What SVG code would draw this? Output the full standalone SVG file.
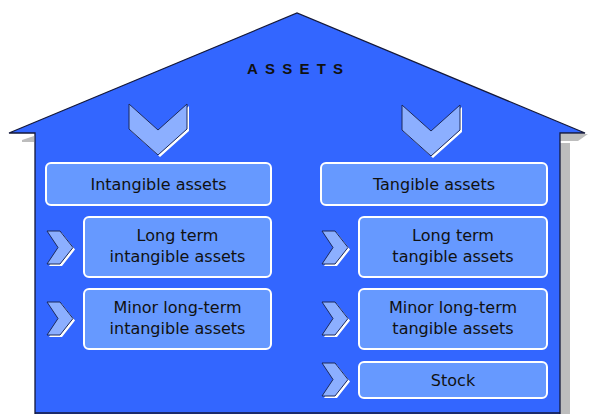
<svg xmlns="http://www.w3.org/2000/svg" xmlns:xlink="http://www.w3.org/1999/xlink" width="589" height="414" viewBox="0 0 589 414">
  <style>
    .wall { fill: #3366ff; }
    .edge { fill: none; stroke: #14193a; stroke-width: 1.3; }
    .box { fill: #6699ff; stroke: #ffffff; stroke-width: 2; }
    .lbl { font-family: "DejaVu Sans", Verdana, sans-serif; font-size: 16px; fill: #111111; text-anchor: middle; }
    .title { font-family: "Liberation Sans", Arial, sans-serif; font-size: 15px; font-weight: bold; fill: #111111; letter-spacing: 7.2px; }
    .chev { fill: #8cafff; stroke: #1c2a5c; stroke-width: 1; stroke-linejoin: miter; }
    .chev-hl { fill: #ffffff; }
    .shade { fill: #bdbdbd; }
  </style>
  <defs>
    <!-- downward chevron, origin at its top-left corner -->
    <g id="chev-down">
      <polygon class="chev-hl" points="2,2 31,28 60,2 60,27 31,53 2,27"/>
      <polygon class="chev" points="0,0 29,26 58,0 58,25 29,51 0,25"/>
    </g>
    <!-- right-pointing chevron, origin at its top-left corner -->
    <g id="chev-right">
      <polygon class="chev-hl" points="2,2 15,2 28,18.5 15,35 2,35 13,18.5"/>
      <polygon class="chev" points="0,0 13,0 26,16.5 13,33 0,33 11,16.5"/>
    </g>
  </defs>

  <!-- house body -->
  <g id="house">
    <polygon class="shade" points="560,143 570,143 570,414 560,414"/>
    <polygon class="shade" points="560,134 588,134 578,141 560,141"/>
    <polygon class="shade" points="22,140 34,136 34,142 22,142"/>
    <polygon class="wall" points="9,133 297,13 585,133 560,133 560,414 35,414 35,133"/>
    <path class="edge" d="M35,414 V133 H9 L297,13 L585,133 H560 V414"/>
    <line class="edge" x1="35" y1="413" x2="560" y2="413"/>
    <text class="title" x="247" y="74">ASSETS</text>
  </g>

  <!-- arrows into each column -->
  <g id="arrows">
    <use xlink:href="#chev-down" x="129" y="104"/>
    <use xlink:href="#chev-down" x="402" y="105"/>
    <use xlink:href="#chev-right" x="47" y="231"/>
    <use xlink:href="#chev-right" x="47" y="302"/>
    <use xlink:href="#chev-right" x="322" y="231"/>
    <use xlink:href="#chev-right" x="322" y="302"/>
    <use xlink:href="#chev-right" x="322" y="363"/>
  </g>

  <!-- intangible column -->
  <g id="intangible">
    <rect class="box" x="46" y="163" width="225" height="42" rx="5"/>
    <text class="lbl" x="158.5" y="190">Intangible assets</text>
  </g>
  <g id="lt-intangible">
    <rect class="box" x="84" y="217" width="187" height="60" rx="5"/>
    <text class="lbl" x="177.5" y="241">Long term</text>
    <text class="lbl" x="177.5" y="262">intangible assets</text>
  </g>
  <g id="minor-intangible">
    <rect class="box" x="84" y="289" width="187" height="60" rx="5"/>
    <text class="lbl" x="177.5" y="313">Minor long-term</text>
    <text class="lbl" x="177.5" y="334">intangible assets</text>
  </g>

  <!-- tangible column -->
  <g id="tangible">
    <rect class="box" x="321" y="163" width="226" height="42" rx="5"/>
    <text class="lbl" x="434" y="190">Tangible assets</text>
  </g>
  <g id="lt-tangible">
    <rect class="box" x="359" y="217" width="188" height="60" rx="5"/>
    <text class="lbl" x="453" y="241">Long term</text>
    <text class="lbl" x="453" y="262">tangible assets</text>
  </g>
  <g id="minor-tangible">
    <rect class="box" x="359" y="289" width="188" height="60" rx="5"/>
    <text class="lbl" x="453" y="313">Minor long-term</text>
    <text class="lbl" x="453" y="334">tangible assets</text>
  </g>
  <g id="stock">
    <rect class="box" x="359" y="362" width="188" height="36" rx="5"/>
    <text class="lbl" x="453" y="386">Stock</text>
  </g>
</svg>
